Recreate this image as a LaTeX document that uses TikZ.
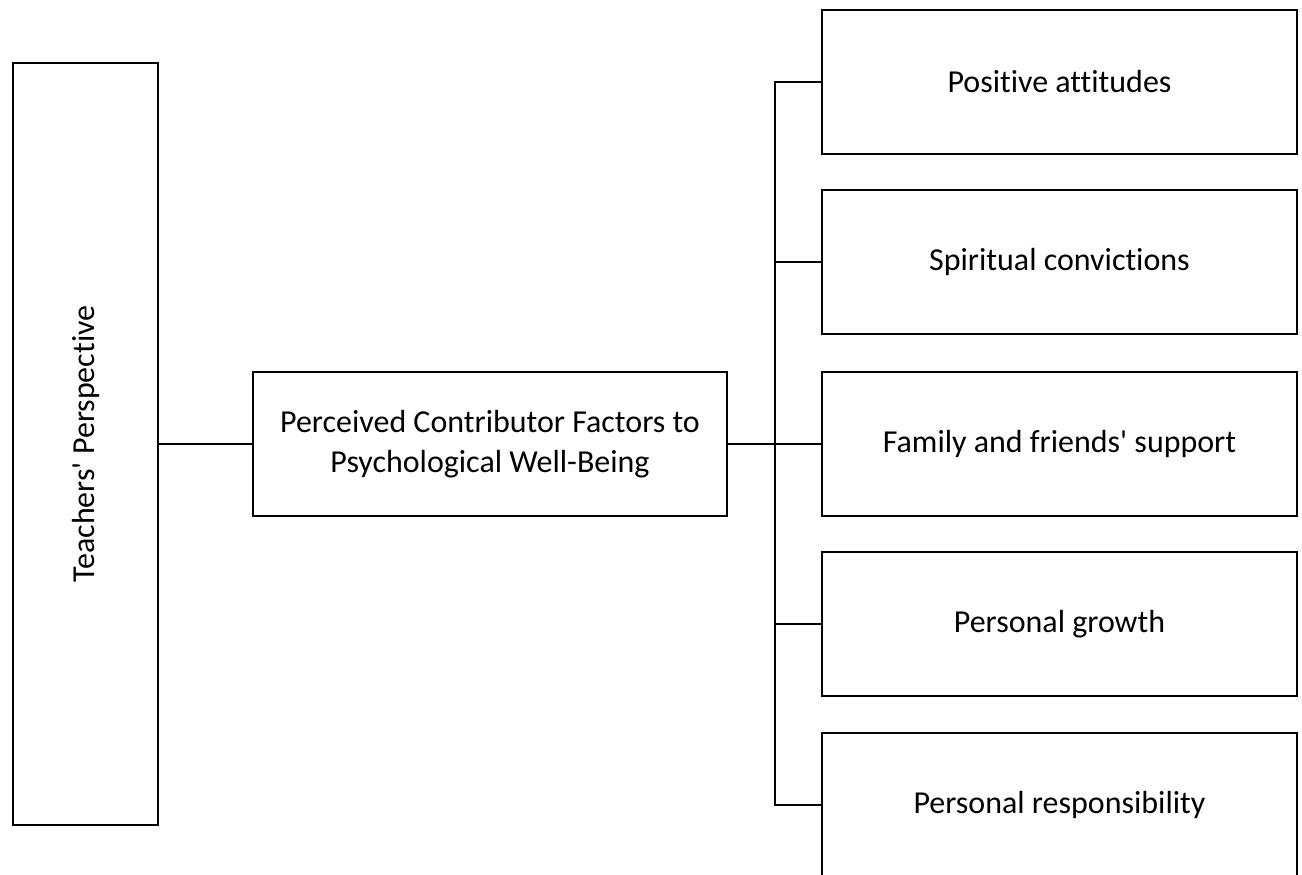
\documentclass[tikz,border=0pt]{standalone}
\usepackage{fontspec}
\setmainfont[Ligatures=CommonOff]{Carlito}
\begin{document}
\begin{tikzpicture}[x=0.02cm,y=-0.02cm,line width=1.5pt,
    box/.style={draw,line width=1.5pt,minimum width=9.5cm,minimum height=2.88cm,font=\fontsize{18.2}{23}\selectfont,align=center}]
                \useasboundingbox (0,0) rectangle (1302,875);
                %% perspective
                \node[box,rotate=90,minimum width=15.24cm,minimum height=2.9cm] (persp) at (85.5,444) {Teachers\textquotesingle\ Perspective};
                %% factors
                \node[box,minimum width=9.48cm] (factors) at (490,444) {Perceived Contributor Factors to\\Psychological Well-Being};
                %% contributors
                \node[box] (attitudes) at (1059.5,82) {Positive attitudes};
                \node[box] (spiritual) at (1059.5,262) {Spiritual convictions};
                \node[box] (support) at (1059.5,444) {Family and friends\textquotesingle\ support};
                \node[box] (growth) at (1059.5,624) {Personal growth};
                \node[box] (respons) at (1059.5,805) {Personal responsibility};
                %% connectors
                \coordinate (trunk) at (775,444);
                \draw (persp.south) -- (factors.west);
                \draw (factors.east) -- (trunk);
                \draw (attitudes.west) -| (trunk) |- (respons.west);
                \draw (trunk |- spiritual.west) -- (spiritual.west);
                \draw (trunk) -- (support.west);
                \draw (trunk |- growth.west) -- (growth.west);
            \end{tikzpicture}
\end{document}
